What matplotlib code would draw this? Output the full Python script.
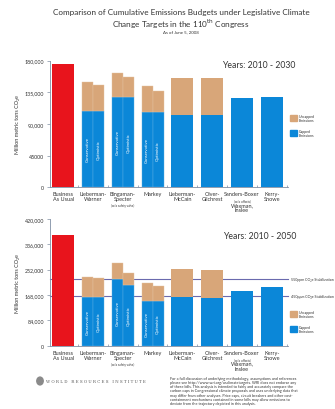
import numpy as np
import matplotlib
matplotlib.use("Agg")
import matplotlib.pyplot as plt
from matplotlib.patches import Rectangle, Circle

plt.rcParams['font.family'] = ['Lato', 'DejaVu Sans']

# ---------------- data ----------------
categories = ["Business\nAs Usual", "Lieberman-\nWarner", "Bingaman-\nSpecter", "Markey",
              "Lieberman-\nMcCain", "Olver-\nGilchrest", "Sanders-Boxer", "Kerry-\nSnowe"]
notes = ["", "", "(w/o safety valve)", "", "", "", "(w/o offsets)", ""]
extra_label = ["", "", "", "", "", "", "Waxman,\nInslee", ""]
split_idx = [1, 2, 3]            # bills with conservative / optimistic scenarios
single_idx = [4, 5, 6, 7]

# 2010-2030
bau_2030 = 175000
cons_capped_2030 = [109000, 129000, 106500]
cons_total_2030 = [150000, 162500, 144000]
opt_capped_2030 = [109000, 129000, 106500]
opt_total_2030 = [146000, 157500, 136500]
single_capped_2030 = [103000, 103000, 126500, 128000]
single_total_2030 = [155000, 155000, 126500, 128000]
yticks_2030 = [0, 45000, 90000, 135000, 180000]
yticklabels_2030 = ["0", "45000", "90,000", "135,000", "180,000"]

# 2010-2050
bau_2050 = 368000
cons_capped_2050 = [162000, 222000, 149000]
cons_total_2050 = [229000, 274000, 208000]
opt_capped_2050 = [162000, 201000, 149000]
opt_total_2050 = [224500, 242000, 197000]
single_capped_2050 = [160000, 157000, 180000, 193000]
single_total_2050 = [254000, 250000, 180000, 193000]
yticks_2050 = [0, 84000, 168000, 252000, 336000, 420000]
yticklabels_2050 = ["0", "84,000", "168,000", "252,000", "336,000", "420,000"]
stab_levels = [220000, 163500]
stab_labels = ["550ppm CO\u2082e Stabilization", "450ppm CO\u2082e Stabilization"]

# ---------------- style ----------------
RED = "#e8141c"
BLUE = "#0b87d8"
TAN = "#d8a679"
LINE = "#6a6aae"
SPINE = "#7f8ea3"
TXT = "#333333"

W, H = 335, 410
fig = plt.figure(figsize=(W / 100, H / 100), dpi=100)


def fx(px):
    return px / W


def fy(py):
    return 1 - py / H


def panel(ax, bau, cc, ct, oc, ot, sc, st, yticks, yticklabels, ymax):
    x = np.arange(len(categories))
    w = 0.74
    ax.bar(x[0], bau, width=w, color=RED, zorder=3)
    sx = x[split_idx]
    cc = np.array(cc); ct = np.array(ct); oc = np.array(oc); ot = np.array(ot)
    ax.bar(sx - w / 4, cc, width=w / 2, color=BLUE, zorder=3, edgecolor="#5aaee6", linewidth=0.3)
    ax.bar(sx - w / 4, ct - cc, bottom=cc, width=w / 2, color=TAN, zorder=3, edgecolor="#e6c3a3", linewidth=0.3)
    ax.bar(sx + w / 4, oc, width=w / 2, color=BLUE, zorder=3, edgecolor="#5aaee6", linewidth=0.3)
    ax.bar(sx + w / 4, ot - oc, bottom=oc, width=w / 2, color=TAN, zorder=3, edgecolor="#e6c3a3", linewidth=0.3)
    for xi, c, o in zip(sx, cc, oc):
        ax.text(xi - w / 4, c / 2, "Conservative", rotation=90, color="white", fontsize=3.2,
                ha="center", va="center", zorder=4)
        ax.text(xi + w / 4, o / 2, "Optimistic", rotation=90, color="white", fontsize=3.2,
                ha="center", va="center", zorder=4)
    gx = x[single_idx]
    sc = np.array(sc); st = np.array(st)
    ax.bar(gx, sc, width=w, color=BLUE, zorder=3)
    ax.bar(gx, st - sc, bottom=sc, width=w, color=TAN, zorder=3)

    ax.set_xlim(-0.463, 7.547)
    ax.set_ylim(0, ymax)
    ax.set_yticks(yticks)
    ax.set_yticklabels(yticklabels, fontsize=3.8, color=TXT)
    ax.set_xticks(x)
    ax.set_xticklabels(categories, fontsize=4.0, color=TXT, linespacing=1.0)
    ax.tick_params(axis="x", length=0, pad=3)
    ax.set_xticks(np.arange(0.5, 8.0, 1.0), minor=True)
    ax.tick_params(axis="x", which="minor", direction="in", length=1.8, color=SPINE, width=0.5)
    ax.tick_params(axis="y", length=2, width=0.5, color=SPINE, pad=2)
    for s in ["top", "right"]:
        ax.spines[s].set_visible(False)
    for s in ["left", "bottom"]:
        ax.spines[s].set_color(SPINE)
        ax.spines[s].set_linewidth(0.6)
    ax.set_ylabel("Million metric tons CO\u2082e", fontsize=4.0, color=TXT, labelpad=3)
    note_off = {2: -11.5, 6: -8.2}
    for i, n in enumerate(notes):
        if n:
            ax.annotate(n, xy=(i, 0), xycoords=("data", "axes fraction"), xytext=(0, note_off.get(i, -10)),
                        textcoords="offset points", fontsize=2.2, ha="center", va="top", color=TXT)
    for i, n in enumerate(extra_label):
        if n:
            ax.annotate(n, xy=(i, 0), xycoords=("data", "axes fraction"), xytext=(0, -10.8),
                        textcoords="offset points", fontsize=4.0, ha="center", va="top",
                        color=TXT, linespacing=1.0)


def legend(py):
    fig.patches.append(Rectangle((fx(290), fy(py + 6)), fx(6.5), 6.5 / H, transform=fig.transFigure,
                                 color=TAN, zorder=5))
    fig.text(fx(299), fy(py + 3), "Uncapped\nEmissions", fontsize=2.6, va="center", ha="left",
             color=TXT, linespacing=1.0)
    fig.patches.append(Rectangle((fx(290), fy(py + 21)), fx(6.5), 6.5 / H, transform=fig.transFigure,
                                 color=BLUE, zorder=5))
    fig.text(fx(299), fy(py + 18), "Capped\nEmissions", fontsize=2.6, va="center", ha="left",
             color=TXT, linespacing=1.0)


# ---------------- top panel ----------------
ax1 = fig.add_axes([fx(49.5), fy(188.3), fx(288 - 49.5), (188.3 - 61.7) / H])
panel(ax1, bau_2030, cons_capped_2030, cons_total_2030, opt_capped_2030, opt_total_2030,
      single_capped_2030, single_total_2030, yticks_2030, yticklabels_2030, 180000)
fig.text(fx(259), fy(65), "Years: 2010 - 2030", fontsize=6.2, ha="center", va="center", color=TXT)
legend(116)

# ---------------- bottom panel ----------------
ax2 = fig.add_axes([fx(49.5), fy(346.7), fx(288 - 49.5), (346.7 - 220) / H])
panel(ax2, bau_2050, cons_capped_2050, cons_total_2050, opt_capped_2050, opt_total_2050,
      single_capped_2050, single_total_2050, yticks_2050, yticklabels_2050, 420000)
for lvl, lab in zip(stab_levels, stab_labels):
    ax2.axhline(lvl, color=LINE, linewidth=0.8, zorder=2, clip_on=False)
    ax2.annotate(lab, xy=(1.0, lvl), xycoords=("axes fraction", "data"), xytext=(2, 0),
                 textcoords="offset points", fontsize=2.6, va="center", ha="left", color=TXT)
fig.text(fx(260), fy(237), "Years: 2010 - 2050", fontsize=6.2, ha="center", va="center", color=TXT)
legend(312)

# ---------------- titles ----------------
fig.text(0.54, fy(13), "Comparison of Cumulative Emissions Budgets under Legislative Climate",
         fontsize=5.9, ha="center", va="center", color=TXT)
fig.text(0.54, fy(24), r"Change Targets in the 110$^{\rm th}$ Congress",
         fontsize=5.9, ha="center", va="center", color=TXT)
fig.text(0.54, fy(32.5), "As of June 5, 2008", fontsize=3.2, ha="center", va="center", color=TXT)

# ---------------- footer ----------------
fig.patches.append(Circle((fx(40), fy(382)), 3.2 / W, transform=fig.transFigure, color="#8a8a8a"))
fig.text(fx(46), fy(382), "W O R L D   R E S O U R C E S   I N S T I T U T E", fontsize=2.9,
         family="DejaVu Serif", ha="left", va="center", color="#555555")
foot = ("For a full discussion of underlying methodology, assumptions and references\n"
        "please see http://www.wri.org/usclimatetargets. WRI does not endorse any\n"
        "of these bills. This analysis is intended to fairly and accurately compare the\n"
        "carbon caps in Congressional climate proposals and uses underlying data that\n"
        "may differ from other analyses. Price caps, circuit breakers and other cost-\n"
        "containment mechanisms contained in some bills may allow emissions to\n"
        "deviate from the trajectory depicted in this analysis.")
fig.text(fx(170), fy(377), foot, fontsize=2.7, ha="left", va="top", color="#333333", linespacing=1.05)

fig.savefig("out.png", dpi=100)
